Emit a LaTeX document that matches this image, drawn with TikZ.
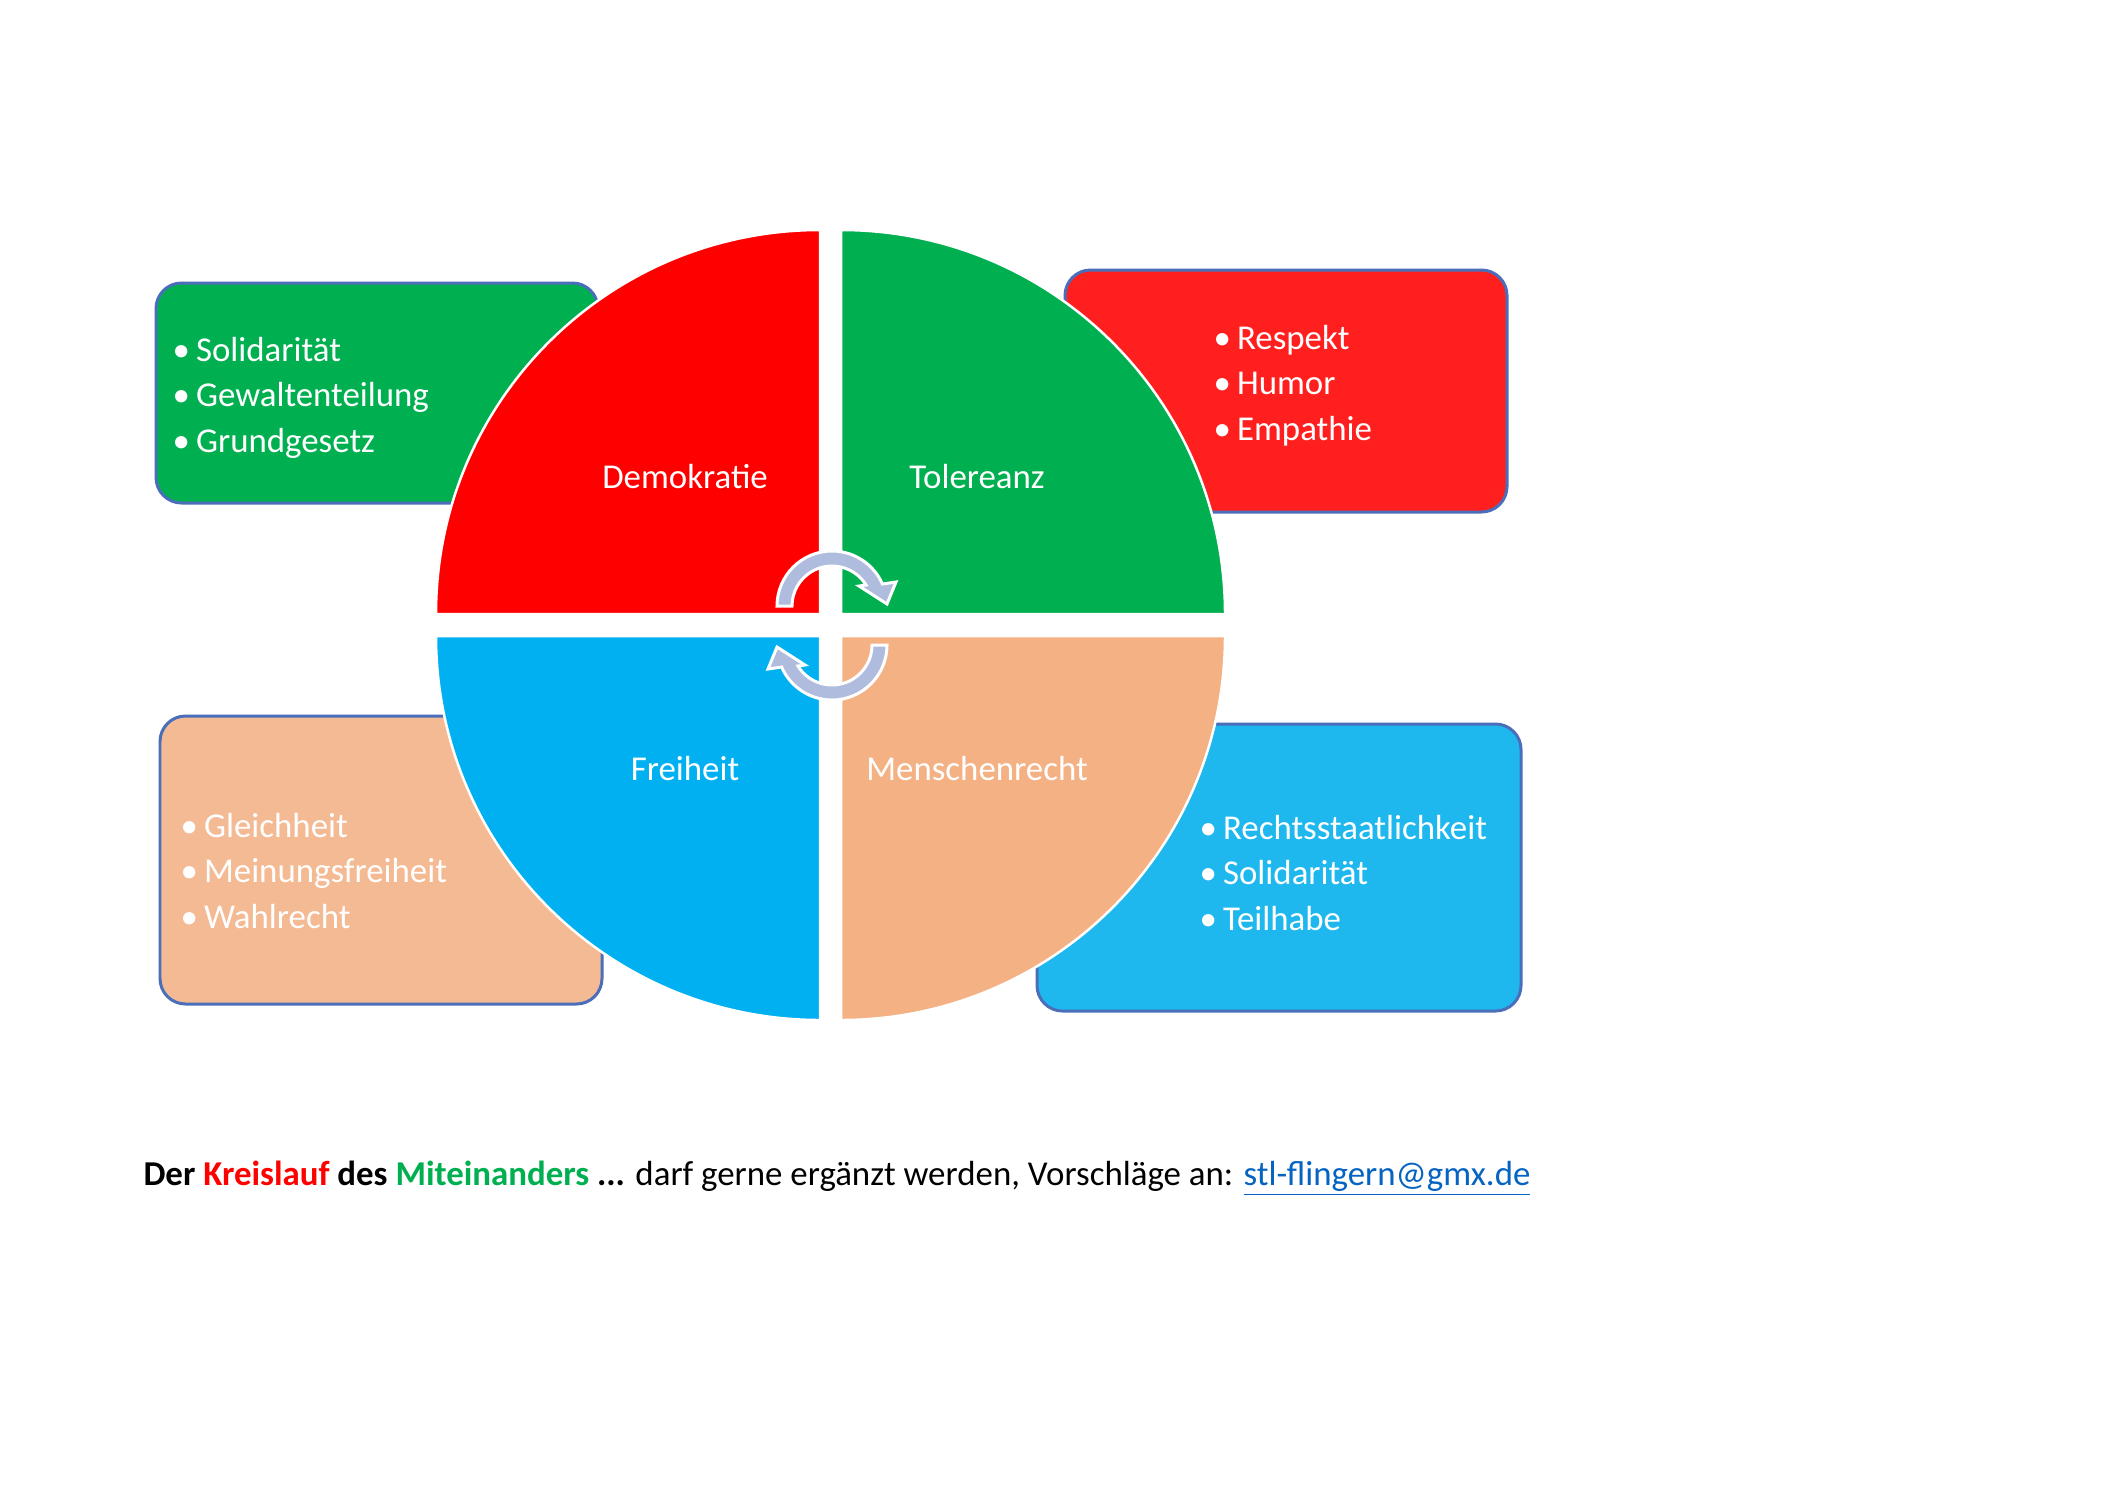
\documentclass[tikz,border=0pt]{standalone}
\usepackage{fontspec}
\setmainfont{Carlito}
\definecolor{qred}{HTML}{FF0000}
\definecolor{qgreen}{HTML}{00B050}
\definecolor{qblue}{HTML}{00B0F0}
\definecolor{qpeach}{HTML}{F4B183}
\definecolor{bred}{HTML}{FF1F1F}
\definecolor{bblue}{HTML}{1EB7EE}
\definecolor{bpeach}{HTML}{F4BA94}
\definecolor{boxline}{HTML}{4A6EBA}
\definecolor{arrowfill}{HTML}{B0BCDE}
\definecolor{linkblue}{HTML}{0563C1}

\begin{document}
\begin{tikzpicture}[x=0.141093mm,y=-0.141093mm,
  box/.style={draw=boxline,line width=1.2pt,rounded corners=3.6mm},
  quarter/.style={draw=white,line width=1pt},
  items/.style={anchor=base west,align=left,text=white,inner sep=0pt,
    font=\fontsize{14}{18.1}\selectfont},
  qlabel/.style={anchor=base,text=white,inner sep=0pt,
    font=\fontsize{14}{16}\selectfont},
  cyclearrow/.style={fill=arrowfill,draw=white,line width=1.2pt}]
  \useasboundingbox[fill=white] (0,0) rectangle (2105,1489);
  % boxes behind the circle
  \draw[box,fill=qgreen] (156,283) rectangle (598,503);
  \draw[box,fill=bred]   (1065,270) rectangle (1507,512);
  \draw[box,fill=bpeach] (160,716) rectangle (602,1004);
  \draw[box,fill=bblue]  (1037,724) rectangle (1521,1011);
  % the four quarters
  \filldraw[quarter,fill=qred]   (820,614) -- (436,614) arc[start angle=180,end angle=270,radius=384] -- cycle;
  \filldraw[quarter,fill=qgreen] (841,614) -- (841,230) arc[start angle=270,end angle=360,radius=384] -- cycle;
  \filldraw[quarter,fill=qblue]  (820,636) -- (436,636) arc[start angle=180,end angle=90,radius=384] -- cycle;
  \filldraw[quarter,fill=qpeach] (841,636) -- (1225,636) arc[start angle=0,end angle=90,radius=384] -- cycle;
  \node[qlabel] (demokratie) at (685,488) {Demokratie};
  \node[qlabel] (toleranz)   at (977,488) {Tolereanz};
  \node[qlabel] (freiheit)   at (685,780) {Freiheit};
  \node[qlabel] (menschen)   at (977,780) {Menschenrecht};
  % bullet lists (placed at the baseline of their last line)
  \node[items] (listtl) at (172,452) {•\hspace{2.5pt}Solidarität\\•\hspace{2.5pt}Gewaltenteilung\\•\hspace{2.5pt}Grundgesetz};
  \node[items] (listtr) at (1213,440) {•\hspace{2.5pt}Respekt\\•\hspace{2.5pt}Humor\\•\hspace{2.5pt}Empathie};
  \node[items] (listbl) at (180,928) {•\hspace{2.5pt}Gleichheit\\•\hspace{2.5pt}Meinungsfreiheit\\•\hspace{2.5pt}Wahlrecht};
  \node[items] (listbr) at (1199,930) {•\hspace{2.5pt}Rechtsstaatlichkeit\\•\hspace{2.5pt}Solidarität\\•\hspace{2.5pt}Teilhabe};
  % the two turning arrows
  \begin{scope}[shift={(832,606)}]
    \filldraw[cyclearrow] (180:55) arc[start angle=180,end angle=336.4,radius=55]
      -- (64,-24) -- (55,-2) -- (27,-20) -- (328.3:40)
      arc[start angle=328.3,end angle=180,radius=40] -- cycle;
  \end{scope}
  \begin{scope}[shift={(832,645)},rotate=180]
    \filldraw[cyclearrow] (180:55) arc[start angle=180,end angle=336.4,radius=55]
      -- (64,-24) -- (55,-2) -- (27,-20) -- (328.3:40)
      arc[start angle=328.3,end angle=180,radius=40] -- cycle;
  \end{scope}
  % footer line
  \node[anchor=base west,inner sep=0pt,font=\fontsize{14}{17}\selectfont] (footer) at (143,1185)
    {\textbf{Der \textcolor{qred}{Kreislauf} des \textcolor{qgreen}{Miteinanders} ...} darf gerne ergänzt werden, Vorschläge an: \textcolor{linkblue}{\underline{stl-flingern@gmx.de}}};
\end{tikzpicture}
\end{document}
